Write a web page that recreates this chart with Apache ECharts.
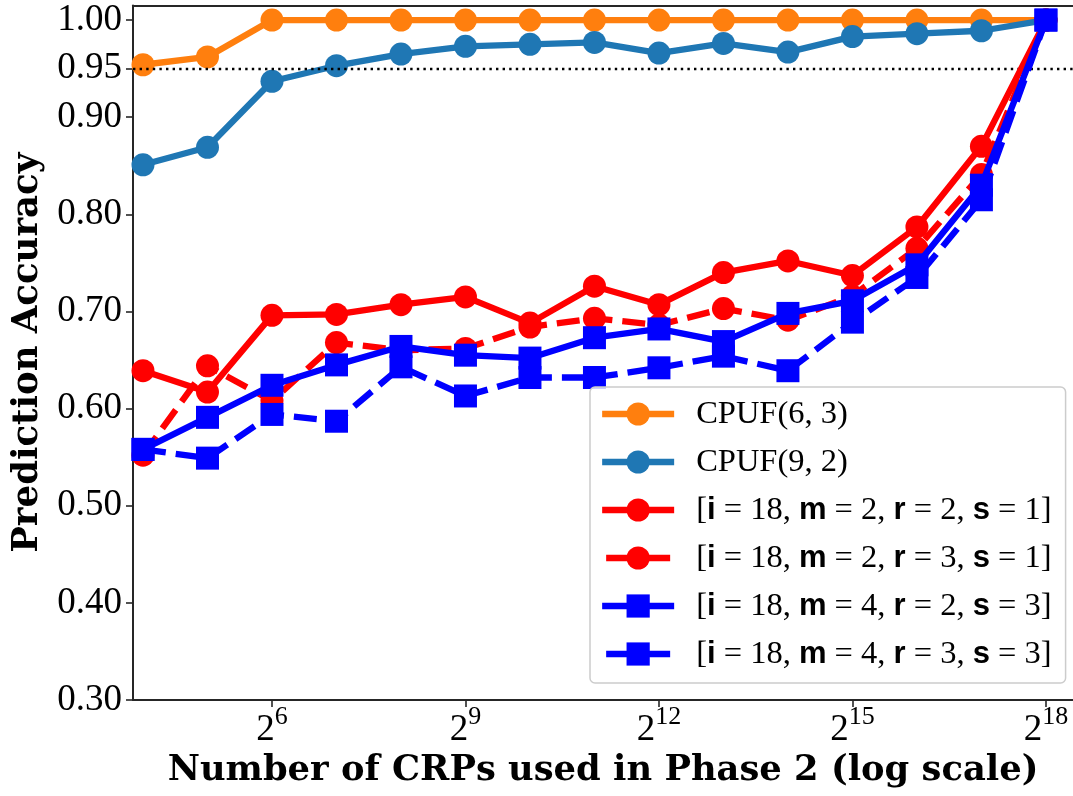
<!DOCTYPE html>
<html>
<head>
<meta charset="utf-8">
<script src="https://cdn.jsdelivr.net/npm/echarts@6/dist/echarts.min.js"></script>
<style>
  html, body { margin: 0; padding: 0; background: #ffffff; }
  #chart { width: 1073px; height: 796px; }
</style>
</head>
<body>
<div id="chart"></div>
<script>
// Number of CRPs used in phase 2, as powers of two (2^4 ... 2^18)
const crpExponents = [4, 5, 6, 7, 8, 9, 10, 11, 12, 13, 14, 15, 16, 17, 18];
const xTickExponents = [6, 9, 12, 15, 18];
const yTickValues = [0.30, 0.40, 0.50, 0.60, 0.70, 0.80, 0.90, 0.95, 1.00];
const thresholdAccuracy = 0.95;

const seriesNames = [
  'CPUF(6, 3)',
  'CPUF(9, 2)',
  '[i = 18, m = 2, r = 2, s = 1]',
  '[i = 18, m = 2, r = 3, s = 1]',
  '[i = 18, m = 4, r = 2, s = 3]',
  '[i = 18, m = 4, r = 3, s = 3]'
];

// Prediction accuracy per configuration
const cpuf63 = [0.954, 0.962, 1.000, 1.000, 1.000, 1.000, 1.000, 1.000, 1.000, 1.000, 1.000, 1.000, 1.000, 1.000, 1.000];
const cpuf92 = [0.851, 0.869, 0.937, 0.953, 0.965, 0.973, 0.975, 0.977, 0.966, 0.976, 0.967, 0.983, 0.986, 0.989, 1.000];
const m2r2 = [0.639, 0.617, 0.696, 0.697, 0.707, 0.715, 0.688, 0.726, 0.707, 0.740, 0.752, 0.737, 0.787, 0.870, 1.000];
const m2r3 = [0.552, 0.644, 0.608, 0.668, 0.660, 0.662, 0.684, 0.693, 0.686, 0.703, 0.691, 0.716, 0.765, 0.841, 1.000];
const m4r2 = [0.558, 0.591, 0.624, 0.645, 0.664, 0.655, 0.652, 0.673, 0.682, 0.669, 0.698, 0.711, 0.748, 0.830, 1.000];
const m4r3 = [0.558, 0.549, 0.594, 0.587, 0.643, 0.613, 0.632, 0.632, 0.642, 0.654, 0.639, 0.689, 0.735, 0.815, 1.000];

const seriesValues = [cpuf63, cpuf92, m2r2, m2r3, m4r2, m4r3];
const seriesColors = ['#ff7f0e', '#1f77b4', '#ff0000', '#ff0000', '#0000ff', '#0000ff'];
const seriesSymbols = ['circle', 'circle', 'circle', 'circle', 'rect', 'rect'];
const seriesDashed = [false, false, false, true, false, true];

const X_MIN = 3.845, X_MAX = 18.42;
const Y_MIN = 0.30, Y_MAX = 1.015;
const LINE_WIDTH = 6.3;
const AXIS_COLOR = '#262626';
const SERIF = '"Liberation Serif", "Times New Roman", serif';
const TITLE_SERIF = '"DejaVu Serif", serif';

const chart = echarts.init(document.getElementById('chart'), null, { renderer: 'canvas' });

const lineSeries = seriesNames.map((name, i) => ({
  name: name,
  type: 'line',
  xAxisIndex: 0,
  yAxisIndex: 0,
  data: crpExponents.map((e, k) => [e, seriesValues[i][k]]),
  symbol: seriesSymbols[i],
  symbolSize: 23,
  showSymbol: true,
  showAllSymbol: true,
  z: 3 + i,
  lineStyle: {
    color: seriesColors[i],
    width: LINE_WIDTH,
    type: seriesDashed[i] ? [23, 10] : 'solid',
    cap: 'butt',
    join: 'round'
  },
  itemStyle: { color: seriesColors[i], borderWidth: 0 },
  emphasis: { disabled: true },
  animation: false
}));

// Dotted reference line at the 0.95 accuracy level
const thresholdSeries = {
  name: 'threshold',
  type: 'line',
  data: [],
  z: 1,
  silent: true,
  animation: false,
  markLine: {
    silent: true,
    symbol: 'none',
    animation: false,
    label: { show: false },
    lineStyle: { color: '#000000', width: 2.4, type: [2.4, 4.2] },
    data: [{ yAxis: thresholdAccuracy }]
  }
};

function legendLabel(name) {
  if (name.charAt(0) !== '[') return name;
  return name.replace(/([imrs])(?= =)/g, '{b|$1}');
}

const legendData = seriesNames.map((name, i) => ({
  name: name,
  lineStyle: seriesDashed[i]
    ? { width: LINE_WIDTH, color: seriesColors[i], type: [64, 30], dashOffset: -4, cap: 'butt' }
    : { width: LINE_WIDTH, color: seriesColors[i], type: 'solid', cap: 'butt' }
}));

chart.setOption({
  backgroundColor: '#ffffff',
  animation: false,
  grid: { left: 133, right: 0, top: 5.5, bottom: 96, containLabel: false },
  xAxis: [
    {
      type: 'value',
      min: X_MIN,
      max: X_MAX,
      position: 'bottom',
      axisLine: { show: true, onZero: false, lineStyle: { color: AXIS_COLOR, width: 2 } },
      axisTick: { show: true, length: 7, inside: false, customValues: xTickExponents, lineStyle: { color: AXIS_COLOR, width: 1.6 } },
      axisLabel: {
        show: true,
        customValues: xTickExponents,
        margin: 4,
        formatter: v => '{b|2}{s|' + v + '}',
        rich: {
          b: { fontFamily: SERIF, fontSize: 37, color: '#000000' },
          s: { fontFamily: SERIF, fontSize: 26, color: '#000000', padding: [0, 0, 26, 0] }
        }
      },
      splitLine: { show: false },
      name: 'Number of CRPs used in Phase 2 (log scale)',
      nameLocation: 'middle',
      nameGap: 53,
      nameTextStyle: { fontFamily: TITLE_SERIF, fontWeight: 'bold', fontSize: 35.3, color: '#000000' }
    },
    {
      type: 'value',
      min: X_MIN,
      max: X_MAX,
      position: 'top',
      axisLine: { show: true, onZero: false, lineStyle: { color: AXIS_COLOR, width: 2 } },
      axisTick: { show: false },
      axisLabel: { show: false },
      splitLine: { show: false }
    }
  ],
  yAxis: {
    type: 'value',
    min: Y_MIN,
    max: Y_MAX,
    axisLine: { show: true, onZero: false, lineStyle: { color: AXIS_COLOR, width: 2 } },
    axisTick: { show: true, length: 7, customValues: yTickValues, lineStyle: { color: AXIS_COLOR, width: 1.6 } },
    axisLabel: {
      show: true,
      customValues: yTickValues,
      formatter: v => v.toFixed(2),
      fontFamily: SERIF,
      fontSize: 37,
      color: '#000000',
      margin: 11
    },
    splitLine: { show: false },
    name: 'Prediction Accuracy',
    nameLocation: 'middle',
    nameGap: 87,
    nameTextStyle: { fontFamily: TITLE_SERIF, fontWeight: 'bold', fontSize: 35.5, color: '#000000' }
  },
  legend: {
    show: true,
    orient: 'vertical',
    left: 590,
    top: 387,
    z: 20,
    data: legendData,
    itemWidth: 72,
    itemHeight: 29,
    itemGap: 10,
    padding: [8, 14, 10, 9],
    backgroundColor: 'rgba(255,255,255,0.8)',
    borderColor: '#cccccc',
    borderWidth: 1.5,
    borderRadius: 5,
    selectedMode: false,
    formatter: legendLabel,
    textStyle: {
      fontFamily: SERIF,
      fontSize: 32.5,
      color: '#000000',
      lineHeight: 38,
      padding: [0, 0, 0, 17],
      rich: {
        b: { fontFamily: '"Liberation Sans", sans-serif', fontWeight: 'bold', fontSize: 31, color: '#000000' }
      }
    }
  },
  series: lineSeries.concat([thresholdSeries])
});
</script>
</body>
</html>
